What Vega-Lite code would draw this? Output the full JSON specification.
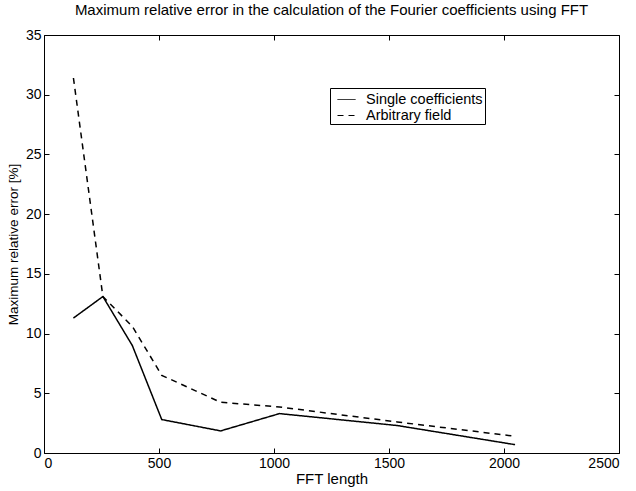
{
  "$schema": "https://vega.github.io/schema/vega-lite/v6.json",
  "autosize": {"type": "none"},
  "width": 575,
  "height": 418,
  "padding": {"left": 44, "top": 35, "right": 17, "bottom": 38},
  "background": "white",
  "config": {
    "font": "Liberation Sans",
    "view": {"stroke": "black", "strokeWidth": 1},
    "axis": {"grid": false, "domain": false, "tickColor": "black", "labelColor": "black", "titleColor": "black", "labelFontSize": 14, "titleFontSize": 14, "titleFontWeight": "normal", "tickSize": -5, "labelPadding": 8, "format": "d"}
  },
  "title": {"text": "Maximum relative error in the calculation of the Fourier coefficients using FFT", "fontSize": 15, "fontWeight": "normal", "color": "black", "offset": 10},
  "data": {"values": [
    {"n": 128, "err": 11.3, "series": "Single coefficients"},
    {"n": 256, "err": 13.1, "series": "Single coefficients"},
    {"n": 384, "err": 9.0, "series": "Single coefficients"},
    {"n": 512, "err": 2.8, "series": "Single coefficients"},
    {"n": 768, "err": 1.85, "series": "Single coefficients"},
    {"n": 1024, "err": 3.3, "series": "Single coefficients"},
    {"n": 1536, "err": 2.3, "series": "Single coefficients"},
    {"n": 2048, "err": 0.7, "series": "Single coefficients"},
    {"n": 128, "err": 31.4, "series": "Arbitrary field"},
    {"n": 256, "err": 13.1, "series": "Arbitrary field"},
    {"n": 384, "err": 10.6, "series": "Arbitrary field"},
    {"n": 512, "err": 6.5, "series": "Arbitrary field"},
    {"n": 768, "err": 4.25, "series": "Arbitrary field"},
    {"n": 1024, "err": 3.85, "series": "Arbitrary field"},
    {"n": 1536, "err": 2.6, "series": "Arbitrary field"},
    {"n": 2048, "err": 1.4, "series": "Arbitrary field"}
  ]},
  "layer": [
    {
      "mark": {"type": "line", "color": "black", "strokeWidth": 1.5},
      "encoding": {
        "x": {"field": "n", "type": "quantitative", "scale": {"domain": [0, 2500], "nice": false}, "axis": {"title": "FFT length", "titleFontSize": 15, "values": [0, 500, 1000, 1500, 2000, 2500], "titlePadding": 1}},
        "y": {"field": "err", "type": "quantitative", "scale": {"domain": [0, 35], "nice": false}, "axis": {"title": "Maximum relative error [%]", "titleFontSize": 13.5, "values": [0, 5, 10, 15, 20, 25, 30, 35], "titlePadding": 5}},
        "strokeDash": {"field": "series", "type": "nominal", "scale": {"domain": ["Single coefficients", "Arbitrary field"], "range": [[1, 0], [6, 5]]},
          "legend": {"title": null, "orient": "none", "legendX": 286, "legendY": 53, "strokeColor": "black", "fillColor": "white", "padding": 2, "labelFontSize": 14.5, "labelColor": "black", "labelLimit": 400, "symbolType": "stroke", "symbolStrokeColor": "black", "symbolStrokeWidth": 1, "symbolSize": 324, "symbolOffset": 5, "rowPadding": -8, "labelOffset": 10, "labelExpr": "datum.label + '\u00a0\u00a0\u00a0\u00a0\u00a0\u00a0\u00a0\u00a0\u00a0\u00a0'"}}
      }
    },
    {
      "mark": {"type": "point", "opacity": 0},
      "encoding": {
        "x": {"field": "n", "type": "quantitative", "axis": {"orient": "top", "title": null, "labels": false, "values": [0, 500, 1000, 1500, 2000, 2500]}},
        "y": {"field": "err", "type": "quantitative", "axis": {"orient": "right", "title": null, "labels": false, "values": [0, 5, 10, 15, 20, 25, 30, 35]}}
      }
    }
  ],
  "resolve": {"axis": {"x": "independent", "y": "independent"}}
}
